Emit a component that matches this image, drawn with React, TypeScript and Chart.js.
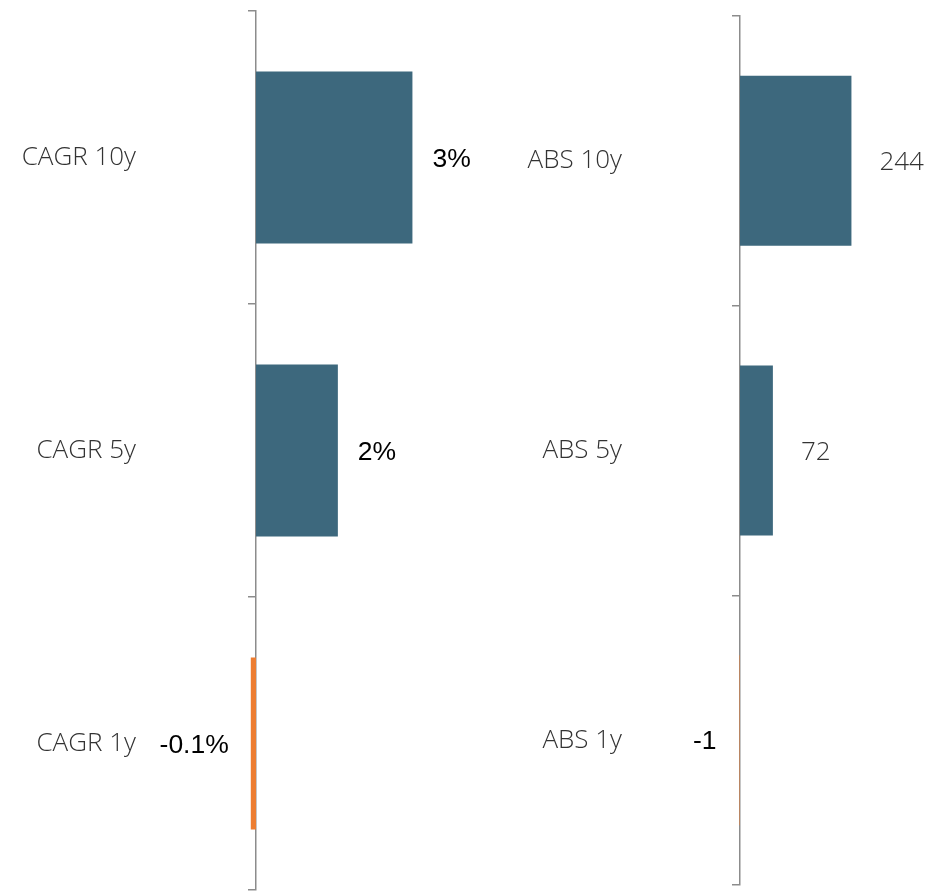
import React, { useEffect, useRef } from "react";
import { Chart, registerables } from "chart.js";

Chart.register(...registerables);

// ---- Data ----
const cagrCategories = ["CAGR 10y", "CAGR 5y", "CAGR 1y"];
const cagrValues = [3.0, 1.57, -0.1];
const cagrValueLabels = ["3%", "2%", "-0.1%"];

const absCategories = ["ABS 10y", "ABS 5y", "ABS 1y"];
const absValues = [244, 72, -1];
const absValueLabels = ["244", "72", "-1"];

// ---- Styles ----
const BLUE = "#3d687d";
const ORANGE = "#ed7d31";
const AXIS_GREY = "#8c8c8c";
const LABEL_FONT = "Open Sans";

const valueLabelPlugin = {
  id: "valueLabels",
  afterDatasetsDraw(chart: any, _args: any, opts: any) {
    const ctx = chart.ctx;
    const meta = chart.getDatasetMeta(0);
    const data = chart.data.datasets[0].data as number[];
    meta.data.forEach((bar: any, i: number) => {
      const v = data[i];
      const text = opts.labels[i];
      const neg = v < 0;
      ctx.save();
      ctx.font = neg ? opts.negFont : opts.posFont;
      ctx.fillStyle = neg ? opts.negColor : opts.posColor;
      ctx.textBaseline = "middle";
      if (neg) {
        ctx.textAlign = "right";
        ctx.fillText(text, Math.min(bar.x, bar.base) - opts.negOffset, bar.y + 2);
      } else {
        ctx.textAlign = "left";
        ctx.fillText(text, bar.x + opts.posOffset, bar.y + 2);
      }
      ctx.restore();
    });
  },
};

type PanelProps = {
  categories: string[];
  values: number[];
  valueLabels: string[];
  width: number;
  height: number;
  axisWidth: number;
  xMax: number;
  padTop: number;
  padBottom: number;
  tickPadding: number;
  posFont: string;
  posColor: string;
  negFont: string;
  negColor: string;
  posOffset: number;
  negOffset: number;
};

function BarPanel(p: PanelProps) {
  const ref = useRef<HTMLCanvasElement | null>(null);
  useEffect(() => {
    if (!ref.current) return;
    const chart = new Chart(ref.current, {
      type: "bar",
      data: {
        labels: p.categories,
        datasets: [
          {
            data: p.values,
            backgroundColor: p.values.map((v) => (v < 0 ? ORANGE : BLUE)),
            borderWidth: 0,
            categoryPercentage: 1,
            barPercentage: 0.587,
            clip: false as any,
          },
        ],
      },
      options: {
        indexAxis: "y",
        responsive: false,
        animation: false,
        devicePixelRatio: 1,
        layout: { padding: { top: p.padTop, bottom: p.padBottom, left: 0, right: 0 } },
        plugins: {
          legend: { display: false },
          tooltip: { enabled: false },
          valueLabels: {
            labels: p.valueLabels,
            posFont: p.posFont,
            posColor: p.posColor,
            negFont: p.negFont,
            negColor: p.negColor,
            posOffset: p.posOffset,
            negOffset: p.negOffset,
          },
        } as any,
        scales: {
          x: {
            display: false,
            min: 0,
            max: p.xMax,
          },
          y: {
            afterFit: (s: any) => {
              s.width = p.axisWidth;
              s.paddingTop = 0;
              s.paddingBottom = 0;
            },
            grid: {
              drawOnChartArea: false,
              drawTicks: true,
              tickLength: 8,
              color: AXIS_GREY,
              lineWidth: 1.5,
              offset: true,
            },
            border: { display: true, color: AXIS_GREY, width: 1.5 },
            ticks: {
              padding: p.tickPadding,
              color: "#333333",
              font: { family: LABEL_FONT, size: 26, weight: "300" as any },
            },
          },
        },
      },
      plugins: [valueLabelPlugin],
    });
    return () => chart.destroy();
  }, []);
  return <canvas ref={ref} width={p.width} height={p.height} style={{ display: "block" }} />;
}

export default function App() {
  return (
    <div
      style={{
        position: "absolute",
        left: 0,
        top: 0,
        width: 951,
        height: 894,
        display: "flex",
        background: "#ffffff",
        overflow: "hidden",
      }}
    >
      <BarPanel
        categories={cagrCategories}
        values={cagrValues}
        valueLabels={cagrValueLabels}
        width={475}
        height={894}
        axisWidth={256}
        xMax={4.2}
        padTop={11}
        padBottom={4}
        tickPadding={112}
        posFont="26.5px 'Liberation Sans', Arial, sans-serif"
        posColor="#000000"
        negFont="26.5px 'Liberation Sans', Arial, sans-serif"
        negColor="#000000"
        posOffset={20}
        negOffset={22}
      />
      <BarPanel
        categories={absCategories}
        values={absValues}
        valueLabels={absValueLabels}
        width={476}
        height={894}
        axisWidth={265}
        xMax={462}
        padTop={16}
        padBottom={9}
        tickPadding={110}
        posFont={`300 26px '${LABEL_FONT}', sans-serif`}
        posColor="#333333"
        negFont="26.5px 'Liberation Sans', Arial, sans-serif"
        negColor="#000000"
        posOffset={28}
        negOffset={23}
      />
    </div>
  );
}
